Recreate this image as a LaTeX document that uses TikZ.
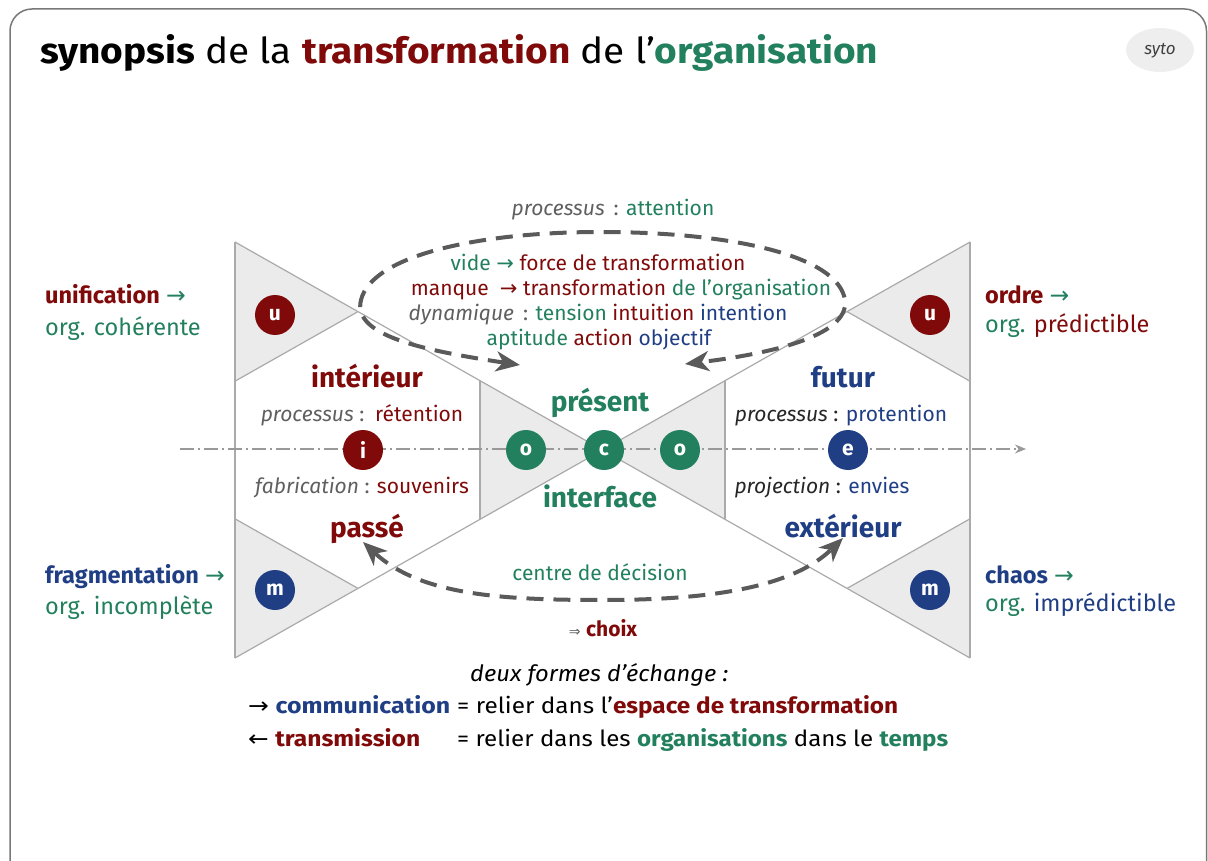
\documentclass[tikz,border=0pt]{standalone}
\usepackage{fontspec}
\setmainfont{Fira Sans}
\newfontfamily\symf{DejaVu Sans}
\usetikzlibrary{arrows.meta}
\definecolor{dred}{RGB}{128,10,10}
\definecolor{cgreen}{RGB}{34,128,94}
\definecolor{cblue}{RGB}{32,62,132}
\definecolor{tgray}{RGB}{95,95,95}
\definecolor{trifill}{RGB}{235,235,235}
\definecolor{triline}{RGB}{170,170,170}
\definecolor{loopc}{RGB}{90,90,90}
\definecolor{framec}{RGB}{120,120,120}
\definecolor{sytofill}{RGB}{238,238,238}
\newcommand{\ar}[1]{{\symf #1}}
\newcommand{\fsz}[1]{\fontsize{#1}{#1}\selectfont}
\newcommand{\fitwh}[3]{\resizebox{#1}{#2}{#3}}
\tikzset{
  edge/.style={draw=triline, line width=1.2pt},
  ball/.style={circle, fill=#1, minimum size=40pt, inner sep=0pt, text=white, font=\bfseries\fsz{21}},
  lbl/.style={inner sep=0pt, text height=0.72em, text depth=0.22em, yshift=-5.5pt, font=\fsz{21}},
  head/.style={lbl, yshift=-2.5pt, font=\bfseries\fsz{28}},
  side/.style={lbl, anchor=west, font=\fsz{23.5}},
  legend/.style={inner sep=0pt, anchor=base west, font=\fsz{22}},
  dashloop/.style={draw=loopc, line width=4pt, dash pattern=on 17pt off 10pt,
    {Stealth[length=24pt,width=20pt,inset=7pt]}-{Stealth[length=24pt,width=20pt,inset=7pt]}},
  axisline/.style={draw=gray!80, line width=1.6pt, dash pattern=on 14pt off 4pt on 2pt off 4pt,
    -{Stealth[length=11pt,width=9pt]}}
}
\begin{document}
\begin{tikzpicture}[x=1pt,y=-1pt]
\useasboundingbox (0,0) rectangle (1208,861);
\clip (0,0) rectangle (1208,861);
% frame
\draw[framec, line width=1.5pt, rounded corners=22pt] (10,9) rectangle (1206.5,885);
% title
\node[anchor=base west, inner sep=0pt] (title) at (40,64)
  {\fitwh{838pt}{29pt}{\fsz{34}\textbf{synopsis} de la \textbf{\color{dred}transformation} de l’\textbf{\color{cgreen}organisation}}};
\fill[sytofill] (1160,50) ellipse [x radius=34, y radius=22];
\node[inner sep=0pt, font=\itshape\fsz{17}, text=black!75] (syto) at (1160,51) {syto};
% geometry
\coordinate (TL) at (235,242);
\coordinate (BL) at (235,658);
\coordinate (TR) at (970,242);
\coordinate (BR) at (970,658);
\coordinate (C) at (602.5,450);
\coordinate (A1) at (358,311.6);
\coordinate (A2) at (358,588.4);
\coordinate (A3) at (847,311.6);
\coordinate (A4) at (847,588.4);
\coordinate (L1) at (235,381.2);
\coordinate (L2) at (235,518.8);
\coordinate (R1) at (970,381.2);
\coordinate (R2) at (970,518.8);
\coordinate (I1) at (480,380.7);
\coordinate (I2) at (480,519.3);
\coordinate (J1) at (725,380.7);
\coordinate (J2) at (725,519.3);
\fill[trifill] (TL)--(A1)--(L1)--cycle;
\fill[trifill] (BL)--(A2)--(L2)--cycle;
\fill[trifill] (TR)--(A3)--(R1)--cycle;
\fill[trifill] (BR)--(A4)--(R2)--cycle;
\fill[trifill] (I1)--(C)--(I2)--cycle;
\fill[trifill] (J1)--(C)--(J2)--cycle;
\draw[edge] (TL)--(BR);
\draw[edge] (BL)--(TR);
\draw[edge] (TL)--(BL);
\draw[edge] (TR)--(BR);
\draw[edge] (L1)--(A1);
\draw[edge] (L2)--(A2);
\draw[edge] (R1)--(A3);
\draw[edge] (R2)--(A4);
\draw[edge] (I1)--(I2);
\draw[edge] (J1)--(J2);
% axis
\coordinate (axs) at (180,449);
\coordinate (axe) at (1026,449);
\draw[axisline] (axs) -- (axe);
% circles
\node[ball=dred] (u1) at (275,315) {u};
\node[ball=dred] (u2) at (930,315) {u};
\node[ball=cblue] (m1) at (275,590) {m};
\node[ball=cblue] (m2) at (930,590) {m};
\node[ball=dred] (i) at (363,450) {i};
\node[ball=cgreen] (o1) at (526,450) {o};
\node[ball=cgreen] (c) at (604,450) {c};
\node[ball=cgreen] (o2) at (680,450) {o};
\node[ball=cblue] (e) at (848,450) {e};
% loops
\coordinate (t1) at (520,365);
\coordinate (t2) at (685,364);
\draw[dashloop] (t1) .. controls (420,350) and (352,335) .. (361,300)
  .. controls (372,255) and (480,232) .. (600,232)
  .. controls (730,232) and (838,255) .. (845,300)
  .. controls (850,338) and (760,355) .. (t2);
\coordinate (b1) at (363,542);
\coordinate (b2) at (843,538);
\draw[dashloop] (b1) .. controls (420,595) and (500,600) .. (603,600)
  .. controls (700,600) and (790,590) .. (b2);
% loop texts
\node[lbl] (attn) at (613,208) {\textit{\color{tgray}processus} \,{\color{tgray}:} {\color{cgreen}attention}};
\node[lbl] (vide) at (598,262) {{\color{cgreen}vide \ar{→}} {\color{dred}force de transformation}};
\node[lbl] (manque) at (621,287) {{\color{dred}manque \ \ar{→} transformation} {\color{cgreen}de l’organisation}};
\node[lbl] (dyn) at (598,312) {\textit{\color{tgray}dynamique} \,{\color{tgray}:} {\color{cgreen}tension} {\color{dred}intuition} {\color{cblue}intention}};
\node[lbl] (apt) at (599,337) {{\color{cgreen}aptitude} {\color{dred}action} {\color{cblue}objectif}};
% hexagon texts
\node[head, text=dred] (inter) at (367,377) {intérieur};
\node[lbl] (proc1) at (362,413) {{\color{tgray}\textit{processus} :} \,{\color{dred}rétention}};
\node[lbl] (fab) at (362,485) {{\color{tgray}\textit{fabrication} :} {\color{dred}souvenirs}};
\node[head, text=dred] (passe) at (367,527) {passé};
\node[head, text=cgreen] (pres) at (600,401) {présent};
\node[head, text=cgreen] (interf) at (600,497) {interface};
\node[head, text=cblue] (futur) at (843,377) {futur};
\node[lbl] (proc2) at (841,413) {{\color{black!85}\textit{processus} :} {\color{cblue}protention}};
\node[lbl] (proj) at (822,485) {{\color{black!85}\textit{projection} :} {\color{cblue}envies}};
\node[head, text=cblue] (ext) at (843,527) {extérieur};
\node[lbl, text=cgreen] (centre) at (600,572) {centre de décision};
\node[lbl] (choix) at (603,628) {{\color{tgray}\fsz{14}\ar{⇒}} {\color{dred}\bfseries choix}};
% side labels
\node[side] (unif) at (45,296) {{\color{dred}\bfseries unification} {\color{cgreen}\ar{→}}};
\node[side, text=cgreen] (coh) at (45,327) {org. cohérente};
\node[side] (frag) at (45,575) {{\color{cblue}\bfseries fragmentation} {\color{cgreen}\ar{→}}};
\node[side, text=cgreen] (incomp) at (45,606) {org. incomplète};
\node[side] (ordre) at (985,296) {{\color{dred}\bfseries ordre} {\color{cgreen}\ar{→}}};
\node[side] (pred) at (985,324) {{\color{cgreen}org.} {\color{dred}prédictible}};
\node[side] (chaos) at (985,575) {{\color{cblue}\bfseries chaos} {\color{cgreen}\ar{→}}};
\node[side] (impred) at (985,603) {{\color{cgreen}org.} {\color{cblue}imprédictible}};
% legend
\node[legend] (deux) at (470,681) {\fitwh{258pt}{18pt}{\itshape deux formes d’échange :}};
\node[legend] (comm) at (248,713) {\fitwh{202pt}{18pt}{\ar{→} {\bfseries\color{cblue}communication}}};
\node[legend] (commdef) at (457,713) {\fitwh{441pt}{18pt}{= relier dans l’{\bfseries\color{dred}espace de transformation}}};
\node[legend] (trans) at (248,746) {\fitwh{172pt}{18pt}{\ar{←} {\bfseries\color{dred}transmission}}};
\node[legend] (transdef) at (457,746) {\fitwh{491pt}{18pt}{= relier dans les {\bfseries\color{cgreen}organisations} dans le {\bfseries\color{cgreen}temps}}};
\end{tikzpicture}
\end{document}
